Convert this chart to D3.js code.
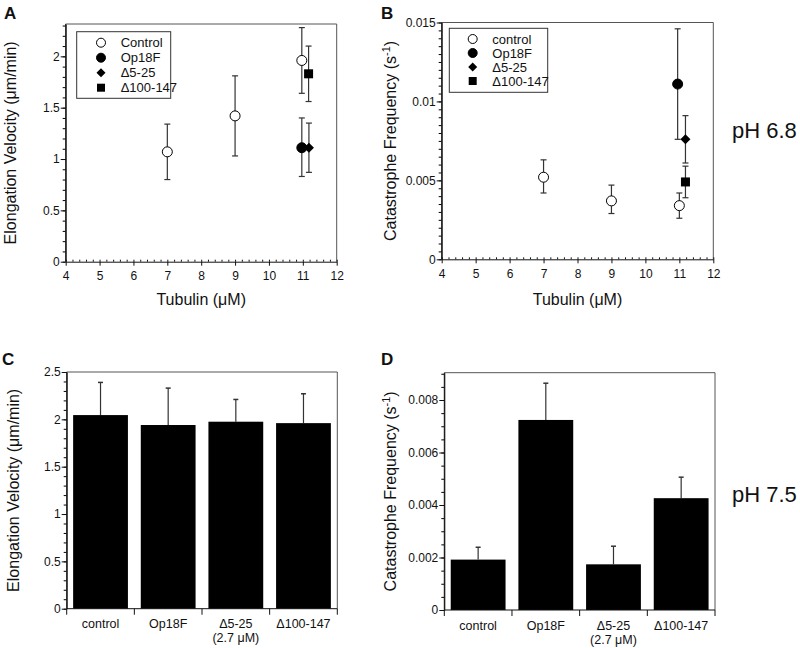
<!DOCTYPE html>
<html><head><meta charset="utf-8">
<script src="https://cdn.jsdelivr.net/npm/d3@7"></script>
<style>
html,body{margin:0;padding:0;background:#fff;}
svg{display:block;font-family:"Liberation Sans",Arial,Helvetica,sans-serif;}
</style></head>
<body>
<svg id="chart" width="800" height="648"></svg>
<script>
// ---------- DATA ----------
const seriesNames = ["Control", "Op18F", "Δ5-25", "Δ100-147"];
const seriesNamesB = ["control", "Op18F", "Δ5-25", "Δ100-147"];
const xTicks = [4, 5, 6, 7, 8, 9, 10, 11, 12];

// Panel A: elongation velocity (µm/min) vs tubulin (µM), pH 6.8
const velControl = [{x: 7, y: 1.07, lo: 0.80, hi: 1.34}, {x: 9, y: 1.42, lo: 1.03, hi: 1.81}, {x: 10.97, y: 1.96, lo: 1.64, hi: 2.28}];
const velOp18F = [{x: 10.97, y: 1.11, lo: 0.83, hi: 1.40}];
const velD525 = [{x: 11.18, y: 1.11, lo: 0.87, hi: 1.35}];
const velD100 = [{x: 11.17, y: 1.83, lo: 1.56, hi: 2.10}];
const yTicksA = [0, 0.5, 1, 1.5, 2];

// Panel B: catastrophe frequency (s^-1) vs tubulin (µM), pH 6.8
const catControl = [{x: 7, y: 0.0052, lo: 0.0042, hi: 0.0063}, {x: 9, y: 0.0037, lo: 0.0029, hi: 0.0047}, {x: 11.0, y: 0.0034, lo: 0.0026, hi: 0.0042}];
const catOp18F = [{x: 10.95, y: 0.0111, lo: 0.0076, hi: 0.0146}];
const catD525 = [{x: 11.18, y: 0.0076, lo: 0.0061, hi: 0.0091}];
const catD100 = [{x: 11.18, y: 0.0049, lo: 0.0039, hi: 0.0059}];
const yTicksB = [0, 0.005, 0.01, 0.015];

// Panels C/D: pH 7.5 bars
const barCats = ["control", "Op18F", "Δ5-25", "Δ100-147"];
const barCatSub = ["", "", "(2.7 μM)", ""];
const velBar = [2.045, 1.94, 1.975, 1.96];
const velBarErr = [0.345, 0.39, 0.235, 0.31];
const yTicksC = [0, 0.5, 1, 1.5, 2, 2.5];
const catBar = [0.00192, 0.00724, 0.00174, 0.00426];
const catBarErr = [0.00047, 0.0014, 0.00069, 0.0008];
const yTicksD = [0, 0.002, 0.004, 0.006, 0.008];

// ---------- DRAW ----------
const svg = d3.select("#chart");
const FONT = "Liberation Sans, Arial, Helvetica, sans-serif";

function frame(g, L, R, T, B) {
  g.append("path").attr("d", `M${L},${T}H${R}V${B}`).attr("fill", "none")
    .attr("stroke", "#555").attr("stroke-width", 1);
}

function yAxis(g, y, L, ticks, minorStep, fmt) {
  const [d0, d1] = y.domain();
  const minor = d3.range(d0, d1 + minorStep / 2, minorStep);
  g.append("g").attr("transform", `translate(${L},0)`)
    .call(d3.axisLeft(y).tickValues(minor).tickSize(3).tickFormat(""))
    .call(s => s.select(".domain").remove());
  const ax = g.append("g").attr("transform", `translate(${L},0)`)
    .call(d3.axisLeft(y).tickValues(ticks).tickSize(5).tickSizeOuter(0).tickPadding(1).tickFormat(fmt));
  ax.selectAll("text").attr("font-size", 12).attr("font-family", FONT).attr("fill", "#111");
  ax.selectAll("line, path").attr("stroke", "#111");
  g.append("line").attr("x1", L).attr("x2", L).attr("y1", y.range()[0]).attr("y2", y.range()[1])
    .attr("stroke", "#111");
}

function xAxisLinear(g, x, B, ticks, minorStep) {
  const [d0, d1] = x.domain();
  const minor = d3.range(d0, d1 + minorStep / 2, minorStep);
  g.append("g").attr("transform", `translate(0,${B})`)
    .call(d3.axisTop(x).tickValues(minor).tickSize(2).tickFormat(""))
    .call(s => s.select(".domain").remove())
    .selectAll("line").attr("stroke", "#111");
  const ax = g.append("g").attr("transform", `translate(0,${B})`)
    .call(d3.axisBottom(x).tickValues(ticks).tickSize(4).tickSizeOuter(0).tickPadding(6).tickFormat(d3.format("d")));
  ax.selectAll("text").attr("font-size", 12).attr("font-family", FONT).attr("fill", "#111");
  ax.selectAll("line, path").attr("stroke", "#111");
}

function marker(sel, type, size, fill) {
  if (type === "circle") {
    sel.append("circle").attr("r", size / 2).attr("fill", fill).attr("stroke", "#000").attr("stroke-width", 1);
  } else if (type === "square") {
    sel.append("rect").attr("x", -size / 2).attr("y", -size / 2).attr("width", size).attr("height", size).attr("fill", "#000");
  } else if (type === "diamond") {
    const h = size / 2;
    sel.append("path").attr("d", `M0,${-h}L${h},0L0,${h}L${-h},0Z`).attr("fill", "#000");
  }
}

const seriesStyle = [
  {type: "circle", size: 10, fill: "#fff"},
  {type: "circle", size: 10, fill: "#000"},
  {type: "diamond", size: 10, fill: "#000"},
  {type: "square", size: 9, fill: "#000"}
];

function scatterPanel(opts) {
  const {L, R, T, B, yDomain, yTicks, minorY, fmt, data, legend, names, yTitle, letter, letterX, titleX} = opts;
  const g = svg.append("g");
  const x = d3.scaleLinear().domain([4, 12]).range([L, R]);
  const y = d3.scaleLinear().domain(yDomain).range([B, T]);
  frame(g, L, R, T, B);
  yAxis(g, y, L, yTicks, minorY, fmt);
  xAxisLinear(g, x, B, xTicks, 0.2);
  data.forEach((series) => {
    const eg = g.append("g");
    series.forEach(d => {
      eg.append("line").attr("x1", x(d.x)).attr("x2", x(d.x)).attr("y1", y(d.lo)).attr("y2", y(d.hi))
        .attr("stroke", "#333").attr("stroke-width", 1.2);
      [d.lo, d.hi].forEach(v => eg.append("line").attr("x1", x(d.x) - 3).attr("x2", x(d.x) + 3)
        .attr("y1", y(v)).attr("y2", y(v)).attr("stroke", "#333").attr("stroke-width", 1.2));
    });
  });
  data.forEach((series, si) => {
    series.forEach(d => {
      const m = g.append("g").attr("transform", `translate(${x(d.x)},${y(d.y)})`);
      marker(m, seriesStyle[si].type, seriesStyle[si].size, seriesStyle[si].fill);
    });
  });
  const lg = g.append("g");
  lg.append("rect").attr("x", legend.x).attr("y", legend.y).attr("width", legend.w).attr("height", legend.h)
    .attr("fill", "#fff").attr("stroke", "#333").attr("stroke-width", 1);
  names.forEach((n, i) => {
    const cy = legend.y + legend.row0 + i * legend.dy;
    const m = lg.append("g").attr("transform", `translate(${legend.mx},${cy})`);
    marker(m, seriesStyle[i].type, seriesStyle[i].size - 1, seriesStyle[i].fill);
    lg.append("text").attr("x", legend.tx).attr("y", cy + 4.5).attr("font-size", 13).attr("font-family", FONT)
      .attr("fill", "#111").text(n);
  });
  g.append("text").attr("x", (L + R) / 2).attr("y", 305).attr("text-anchor", "middle")
    .attr("font-size", 16).attr("font-family", FONT).attr("fill", "#111").text("Tubulin (μM)");
  const yt = g.append("text").attr("transform", `translate(${titleX},${(T + B) / 2}) rotate(-90)`)
    .attr("text-anchor", "middle").attr("font-size", 16).attr("font-family", FONT).attr("fill", "#111");
  yTitle(yt);
  g.append("text").attr("x", letterX).attr("y", 19).attr("font-size", 17).attr("font-weight", "bold")
    .attr("font-family", FONT).attr("fill", "#111").text(letter);
}

function barPanel(opts) {
  const {L, R, T, B, yDomain, yTicks, minorY, fmt, values, errs, yTitle, letter, letterX, titleX} = opts;
  const g = svg.append("g");
  const x = d3.scaleBand().domain(barCats).range([L, R]).paddingInner(0.19).paddingOuter(0.095);
  const y = d3.scaleLinear().domain(yDomain).range([B, T]);
  frame(g, L, R, T, B);
  barCats.forEach((c, i) => {
    const cx = x(c) + x.bandwidth() / 2;
    g.append("line").attr("x1", cx).attr("x2", cx).attr("y1", y(values[i])).attr("y2", y(values[i] + errs[i]))
      .attr("stroke", "#333").attr("stroke-width", 1.2);
    g.append("line").attr("x1", cx - 2.5).attr("x2", cx + 2.5).attr("y1", y(values[i] + errs[i])).attr("y2", y(values[i] + errs[i]))
      .attr("stroke", "#333").attr("stroke-width", 1.5);
  });
  g.selectAll("rect.bar").data(barCats).join("rect").attr("class", "bar")
    .attr("x", c => x(c)).attr("width", x.bandwidth())
    .attr("y", (c, i) => y(values[i])).attr("height", (c, i) => y(0) - y(values[i]))
    .attr("fill", "#000");
  yAxis(g, y, L, yTicks, minorY, fmt);
  g.append("line").attr("x1", L).attr("x2", R).attr("y1", B).attr("y2", B).attr("stroke", "#111");
  const step = x.step();
  d3.range(barCats.length + 1).forEach(i => {
    const bx = L + i * step;
    g.append("line").attr("x1", bx).attr("x2", bx).attr("y1", B).attr("y2", B + 6).attr("stroke", "#111");
  });
  barCats.forEach((c, i) => {
    const cx = x(c) + x.bandwidth() / 2;
    g.append("text").attr("x", cx).attr("y", B + 19.5).attr("text-anchor", "middle").attr("font-size", 12.5)
      .attr("font-family", FONT).attr("fill", "#111").text(c);
    if (barCatSub[i]) {
      g.append("text").attr("x", cx).attr("y", B + 33.5).attr("text-anchor", "middle").attr("font-size", 12.5)
        .attr("font-family", FONT).attr("fill", "#111").text(barCatSub[i]);
    }
  });
  const yt = g.append("text").attr("transform", `translate(${titleX},${(T + B) / 2}) rotate(-90)`)
    .attr("text-anchor", "middle").attr("font-size", 16).attr("font-family", FONT).attr("fill", "#111");
  yTitle(yt);
  g.append("text").attr("x", letterX).attr("y", 365).attr("font-size", 17).attr("font-weight", "bold")
    .attr("font-family", FONT).attr("fill", "#111").text(letter);
}

const velTitle = t => t.text("Elongation Velocity (μm/min)");
const catTitle = t => {
  t.append("tspan").text("Catastrophe Frequency (s");
  t.append("tspan").attr("font-size", 11).attr("dy", -6).text("-1");
  t.append("tspan").attr("dy", 6).text(")");
};
const fmtD = d => d === 0 ? "0" : d3.format(".3f")(d);

scatterPanel({
  L: 65.7, R: 336.7, T: 24, B: 261.7, yDomain: [0, 2.315], yTicks: yTicksA, minorY: 0.1,
  fmt: d3.format("~g"), data: [velControl, velOp18F, velD525, velD100],
  legend: {x: 76.7, y: 31.7, w: 94, h: 66.6, row0: 11, dy: 15, mx: 101, tx: 120.7},
  names: seriesNames, yTitle: velTitle, letter: "A", letterX: 4, titleX: 15.5
});
scatterPanel({
  L: 441.7, R: 713.3, T: 22.5, B: 259.3, yDomain: [0, 0.015], yTicks: yTicksB, minorY: 0.0005,
  fmt: d3.format("~g"), data: [catControl, catOp18F, catD525, catD100],
  legend: {x: 449.3, y: 28.3, w: 98.4, h: 64, row0: 10.7, dy: 14, mx: 472.7, tx: 492.3},
  names: seriesNamesB, yTitle: catTitle, letter: "B", letterX: 381, titleX: 396
});
barPanel({
  L: 66.7, R: 337.3, T: 372, B: 608.7, yDomain: [0, 2.5], yTicks: yTicksC, minorY: 0.1,
  fmt: d3.format("~g"), values: velBar, errs: velBarErr, yTitle: velTitle, letter: "C", letterX: 2, titleX: 19
});
barPanel({
  L: 444.3, R: 715, T: 372.7, B: 610, yDomain: [0, 0.00904], yTicks: yTicksD, minorY: 0.0005,
  fmt: fmtD, values: catBar, errs: catBarErr, yTitle: catTitle, letter: "D", letterX: 381, titleX: 396
});

svg.append("text").attr("x", 732).attr("y", 138).attr("font-size", 22).attr("font-family", FONT)
  .attr("fill", "#111").text("pH 6.8");
svg.append("text").attr("x", 732).attr("y", 502).attr("font-size", 22).attr("font-family", FONT)
  .attr("fill", "#111").text("pH 7.5");
</script>
</body></html>
